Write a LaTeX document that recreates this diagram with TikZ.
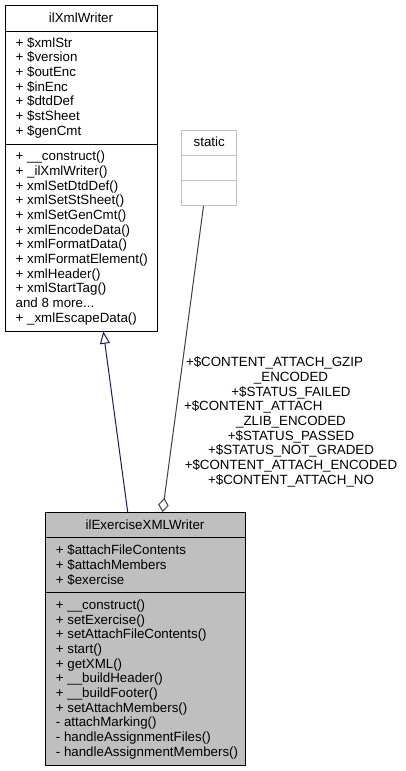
\documentclass[tikz,border=0pt]{standalone}
\usepackage{fontspec}
\setmainfont{Liberation Sans}
\usetikzlibrary{arrows.meta,calc}
\definecolor{boxgrey}{HTML}{BFBFBF}
\definecolor{inhnavy}{HTML}{191970}
\definecolor{agggrey}{HTML}{404040}
\tikzset{
  txt/.style={font=\fontsize{10}{11}\selectfont, inner sep=0pt},
  classbox/.style={draw=black, line width=0.75pt, inner sep=0pt},
  divider/.style={draw=black, line width=0.75pt},
  inherit/.style={draw=inhnavy, line width=0.75pt, -{Triangle[open, length=9.2pt, width=7.5pt, fill=white]}},
  aggreg/.style={draw=agggrey, line width=0.75pt, -{Diamond[open, length=10.5pt, width=8pt, fill=white]}}
}
\begin{document}
\begin{tikzpicture}[x=0.75pt,y=-0.75pt]
\useasboundingbox (0,0) rectangle (405,771);
\fill[white] (0,0) rectangle (405,771);

% ilXmlWriter
\node[classbox, fill=white, minimum width=114pt, minimum height=244.125pt] (xw) at (81,168.25) {};
\draw[divider] ($(xw.north west)+(0,26)$) -- ($(xw.north east)+(0,26)$);
\draw[divider] ($(xw.north west)+(0,139.5)$) -- ($(xw.north east)+(0,139.5)$);
\node[txt, anchor=base] (xwtitle) at (81,22.3) {ilXmlWriter};
\node[txt, anchor=north west, align=left] (xwattr) at (15.4,35) {\rule{0pt}{9pt}+ \$xmlStr\\+ \$version\\+ \$outEnc\\+ \$inEnc\\+ \$dtdDef\\+ \$stSheet\\+ \$genCmt};
\node[txt, anchor=north west, align=left] (xwops) at (15.4,148.5) {\rule{0pt}{9pt}+ \_\_construct()\\+ \_ilXmlWriter()\\+ xmlSetDtdDef()\\+ xmlSetStSheet()\\+ xmlSetGenCmt()\\+ xmlEncodeData()\\+ xmlFormatData()\\+ xmlFormatElement()\\+ xmlHeader()\\+ xmlStartTag()\\and 8 more...\\+ \_xmlEscapeData()};

% static
\node[draw=boxgrey, line width=0.75pt, fill=white, inner sep=0pt, minimum width=41.25pt, minimum height=56.775pt] (st) at (209.2,167.85) {};
\draw[draw=boxgrey, line width=0.75pt] ($(st.north west)+(0,25.7)$) -- ($(st.north east)+(0,25.7)$);
\draw[draw=boxgrey, line width=0.75pt] ($(st.north west)+(0,51)$) -- ($(st.north east)+(0,51)$);
\node[txt, anchor=base] (sttitle) at (209.2,146.7) {static};

% ilExerciseXMLWriter
\node[classbox, fill=boxgrey, minimum width=150pt, minimum height=189.375pt] (xew) at (145,638.75) {};
\draw[divider] ($(xew.north west)+(0,25.2)$) -- ($(xew.north east)+(0,25.2)$);
\draw[divider] ($(xew.north west)+(0,80.8)$) -- ($(xew.north east)+(0,80.8)$);
\node[txt, anchor=base] (xewtitle) at (145,529) {ilExerciseXMLWriter};
\node[txt, anchor=north west, align=left] (xewattr) at (55.6,542.5) {\rule{0pt}{9pt}+ \$attachFileContents\\+ \$attachMembers\\+ \$exercise};
\node[txt, anchor=north west, align=left] (xewops) at (55.6,597.3) {\rule{0pt}{9pt}+ \_\_construct()\\+ setExercise()\\+ setAttachFileContents()\\+ start()\\+ getXML()\\+ \_\_buildHeader()\\+ \_\_buildFooter()\\+ setAttachMembers()\\- attachMarking()\\- handleAssignmentFiles()\\- handleAssignmentMembers()};

% connectors
\draw[inherit] ($(xew.north)+(-17.3,0)$) -- ($(xw.south)+(22.3,0)$);
\draw[aggreg] ($(st.south)+(-5.7,0)$) -- ($(xew.north)+(17.5,0)$);

\node[txt, anchor=north, align=center] (agglabel) at (291,354.5) {\rule{0pt}{9pt}\makebox[157.5pt][l]{+\$CONTENT\_ATTACH\_GZIP}\\\_ENCODED\\+\$STATUS\_FAILED\\\makebox[160.5pt][l]{+\$CONTENT\_ATTACH}\\\_ZLIB\_ENCODED\\+\$STATUS\_PASSED\\+\$STATUS\_NOT\_GRADED\\+\$CONTENT\_ATTACH\_ENCODED\\+\$CONTENT\_ATTACH\_NO};
\end{tikzpicture}
\end{document}
